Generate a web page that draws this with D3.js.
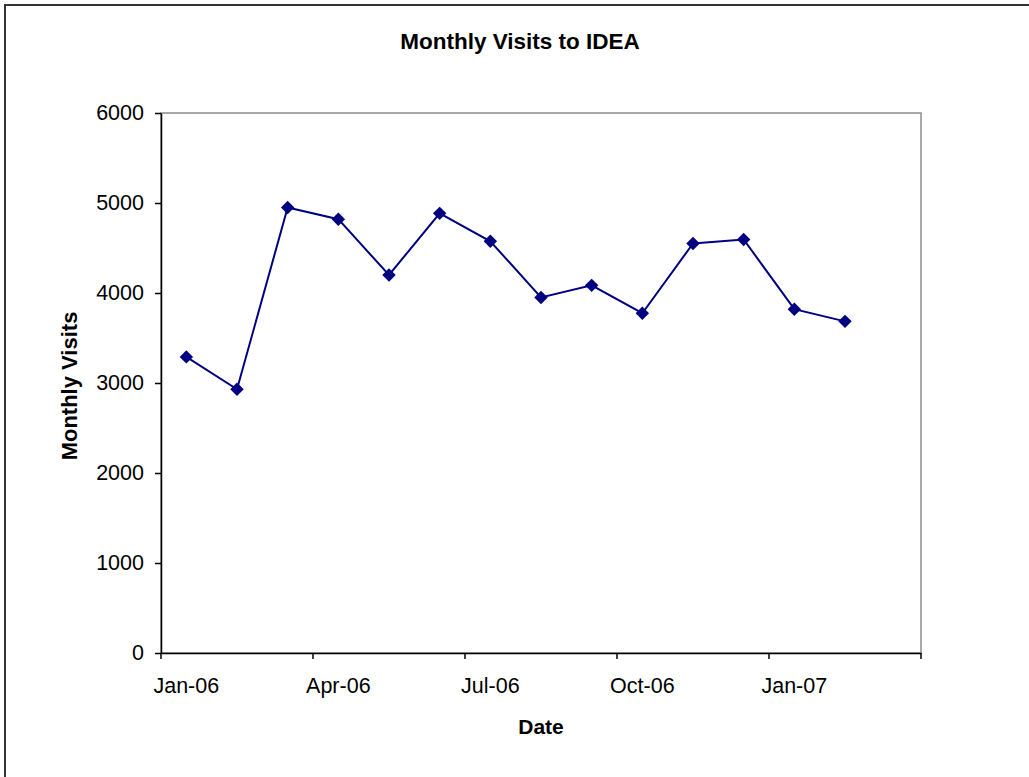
<!DOCTYPE html>
<html>
<head>
<meta charset="utf-8">
<script src="https://cdn.jsdelivr.net/npm/d3@7"></script>
<style>
  html, body { margin: 0; padding: 0; background: #fff; }
  svg { display: block; font-family: Arial, "Liberation Sans", sans-serif; }
</style>
</head>
<body>
<svg id="chart" width="1029" height="777"></svg>
<script>
// Monthly visit counts, Jan 2006 – Feb 2007
const months = ["2006-01", "2006-02", "2006-03", "2006-04", "2006-05", "2006-06", "2006-07",
                "2006-08", "2006-09", "2006-10", "2006-11", "2006-12", "2007-01", "2007-02"];
const visits = [3290, 2930, 4950, 4820, 4200, 4885, 4575, 3950, 4085, 3775, 4550, 4595, 3820, 3685];
// The date axis runs one month past the last data point
const axisMonths = months.concat(["2007-03"]);
const labelMonths = ["2006-01", "2006-04", "2006-07", "2006-10", "2007-01"];
const yTicks = [0, 1000, 2000, 3000, 4000, 5000, 6000];

const svg = d3.select("#chart");
const plot = { left: 161, right: 921, top: 113, bottom: 653 };
const tickFont = 21.5;

// Outer chart frame
svg.append("rect")
  .attr("x", 5).attr("y", 5)
  .attr("width", 1100).attr("height", 900)
  .attr("fill", "#fff").attr("stroke", "#333").attr("stroke-width", 2);

const x = d3.scaleBand().domain(axisMonths).range([plot.left, plot.right]).padding(0);
const y = d3.scaleLinear().domain([0, 6000]).range([plot.bottom, plot.top]);
const bw = x.bandwidth();
const parse = d3.timeParse("%Y-%m");
const fmt = d3.timeFormat("%b-%y");

// Plot area outline
svg.append("rect")
  .attr("x", plot.left).attr("y", plot.top)
  .attr("width", plot.right - plot.left).attr("height", plot.bottom - plot.top)
  .attr("fill", "#fff").attr("stroke", "#8c8c8c").attr("stroke-width", 1.5);

// Y axis
const yAxis = svg.append("g")
  .attr("transform", `translate(${plot.left},0)`)
  .call(d3.axisLeft(y).tickValues(yTicks).tickFormat(d3.format("d"))
    .tickSize(6).tickSizeOuter(0).tickPadding(11));
yAxis.select(".domain").attr("stroke", "#000").attr("stroke-width", 1.5);
yAxis.selectAll(".tick line").attr("stroke", "#000").attr("stroke-width", 1.5);
yAxis.selectAll(".tick text")
  .attr("font-size", tickFont).attr("fill", "#000")
  .attr("font-family", "Arial, 'Liberation Sans', sans-serif");

// X axis: labels sit at the month centre, tick marks at the month boundary
const xAxis = svg.append("g")
  .attr("transform", `translate(0,${plot.bottom})`)
  .call(d3.axisBottom(x).tickValues(labelMonths)
    .tickFormat(d => fmt(parse(d))).tickSize(6).tickSizeOuter(0).tickPadding(19));
xAxis.select(".domain").attr("stroke", "#000").attr("stroke-width", 1.5);
xAxis.selectAll(".tick line")
  .attr("x1", -bw / 2).attr("x2", -bw / 2)
  .attr("stroke", "#000").attr("stroke-width", 1.5);
xAxis.selectAll(".tick text")
  .attr("font-size", tickFont).attr("fill", "#000")
  .attr("font-family", "Arial, 'Liberation Sans', sans-serif");
xAxis.append("line")
  .attr("x1", x.range()[1]).attr("x2", x.range()[1])
  .attr("y1", 0).attr("y2", 6)
  .attr("stroke", "#000").attr("stroke-width", 1.5);

// Series line and diamond markers
const cx = (d, i) => x(months[i]) + bw / 2;
const line = d3.line().x((d, i) => cx(d, i)).y(d => y(d));
svg.append("path")
  .datum(visits)
  .attr("d", line)
  .attr("fill", "none").attr("stroke", "#000080").attr("stroke-width", 2);

const diamond = d3.symbol().type(d3.symbolDiamond2).size(115);
svg.append("g").selectAll("path")
  .data(visits)
  .join("path")
  .attr("d", diamond)
  .attr("transform", (d, i) => `translate(${cx(d, i)},${y(d)})`)
  .attr("fill", "#000080");

// Titles
svg.append("text")
  .attr("x", 520).attr("y", 49)
  .attr("text-anchor", "middle")
  .attr("font-size", 22.5).attr("font-weight", "bold")
  .text("Monthly Visits to IDEA");

svg.append("text")
  .attr("x", (plot.left + plot.right) / 2).attr("y", 734)
  .attr("text-anchor", "middle")
  .attr("font-size", 21).attr("font-weight", "bold")
  .text("Date");

svg.append("text")
  .attr("transform", `translate(77,${(plot.top + plot.bottom) / 2 + 3}) rotate(-90)`)
  .attr("text-anchor", "middle")
  .attr("font-size", 22).attr("font-weight", "bold")
  .text("Monthly Visits");
</script>
</body>
</html>
